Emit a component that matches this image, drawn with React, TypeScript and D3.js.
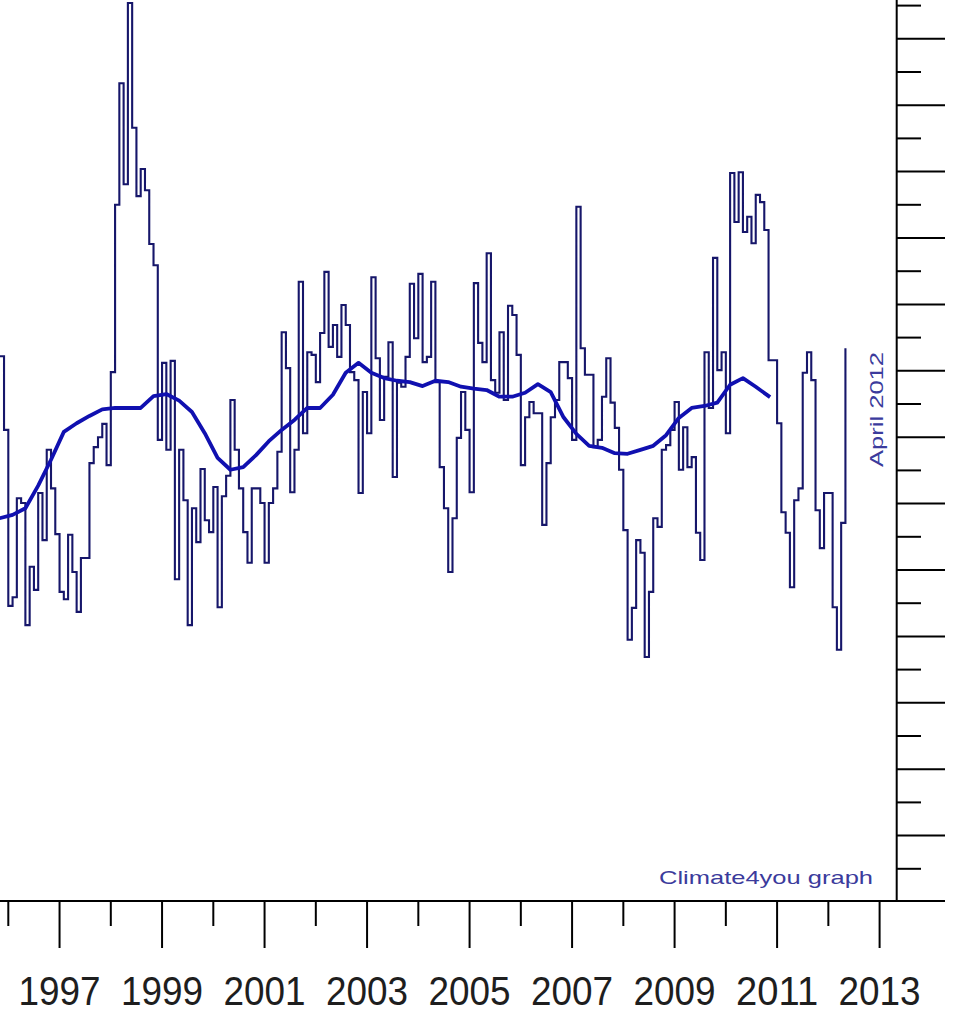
import React from 'react';
import * as d3 from 'd3';

// Monthly lower-troposphere temperature anomaly (°C), starting October 1995, ending April 2012
const START_YEAR = 1995;
const START_MONTH = 10;
const monthlyAnomaly = [
  // 1995 Oct-Dec
  0.322, 0.211, -0.054,
  // 1996
  -0.041, 0.108, 0.101, -0.083, 0.005, -0.030, 0.116, 0.045, 0.181, 0.123, 0.054, -0.033,
  // 1997
  -0.044, 0.053, -0.003, -0.063, 0.018, 0.018, 0.161, 0.185, 0.200, 0.220, 0.158, 0.298,
  // 1998
  0.550, 0.733, 0.581, 0.854, 0.666, 0.563, 0.604, 0.572, 0.491, 0.459, 0.196, 0.312,
  // 1999
  0.181, 0.315, -0.014, 0.181, 0.105, -0.083, 0.093, 0.042, 0.152, 0.075, 0.057, 0.125,
  // 2000
  -0.056, 0.111, 0.142, 0.256, 0.181, 0.123, 0.057, 0.011, 0.123, 0.123, 0.101, 0.011,
  // 2001
  0.101, 0.123, 0.178, 0.358, 0.304, 0.117, 0.181, 0.434, 0.206, 0.328, 0.324, 0.283,
  // 2002
  0.357, 0.449, 0.336, 0.369, 0.321, 0.399, 0.369, 0.298, 0.286, 0.116, 0.268, 0.206,
  // 2003
  0.441, 0.319, 0.226, 0.291, 0.343, 0.140, 0.282, 0.276, 0.321, 0.431, 0.349, 0.446,
  // 2004
  0.313, 0.321, 0.434, 0.283, 0.155, 0.093, -0.003, 0.078, 0.199, 0.268, 0.211, 0.117,
  // 2005
  0.432, 0.342, 0.313, 0.477, 0.286, 0.267, 0.358, 0.256, 0.398, 0.384, 0.324, 0.158,
  // 2006
  0.230, 0.253, 0.236, 0.236, 0.068, 0.161, 0.230, 0.256, 0.313, 0.313, 0.289, 0.196,
  // 2007
  0.547, 0.334, 0.294, 0.294, 0.185, 0.196, 0.261, 0.319, 0.252, 0.214, 0.151, 0.060,
  // 2008
  -0.105, -0.057, 0.045, 0.026, -0.131, -0.033, 0.078, 0.065, 0.181, 0.188, 0.211, 0.253,
  // 2009
  0.151, 0.215, 0.155, 0.170, 0.056, 0.015, 0.328, 0.244, 0.470, 0.301, 0.328, 0.206,
  // 2010
  0.598, 0.524, 0.599, 0.509, 0.532, 0.492, 0.565, 0.554, 0.512, 0.316, 0.316, 0.221,
  // 2011
  0.087, 0.056, -0.026, 0.105, 0.123, 0.297, 0.328, 0.286, 0.090, 0.033, 0.116, 0.116,
  // 2012 Jan-Apr
  -0.056, -0.120, 0.071, 0.334,
];

// 37-month running mean, read every third month from October 1995 to October 2010
const MEAN_START_MONTH = 10;
const MEAN_STEP = 3;
const runningMean = [
  0.078, 0.083, 0.093, 0.127, 0.166,
  0.208, 0.221, 0.232, 0.242,
  0.244, 0.244, 0.244, 0.262,
  0.265, 0.255, 0.238, 0.206,
  0.169, 0.151, 0.155, 0.173,
  0.194, 0.211, 0.226, 0.244,
  0.244, 0.264, 0.297, 0.312,
  0.297, 0.289, 0.285, 0.283,
  0.277, 0.285, 0.283, 0.276,
  0.273, 0.271, 0.261, 0.261,
  0.267, 0.280, 0.268, 0.230,
  0.205, 0.187, 0.184, 0.176,
  0.175, 0.181, 0.187, 0.203,
  0.229, 0.244, 0.247, 0.252,
  0.279, 0.289, 0.276, 0.262,
];

const yearTicks = [1996, 1997, 1998, 1999, 2000, 2001, 2002, 2003, 2004, 2005, 2006, 2007, 2008, 2009, 2010, 2011, 2012, 2013];
const yearLabels = [1997, 1999, 2001, 2003, 2005, 2007, 2009, 2011, 2013];
const valueTicks = [-0.45, -0.4, -0.35, -0.3, -0.25, -0.2, -0.15, -0.1, -0.05, 0, 0.05, 0.1, 0.15, 0.2, 0.25, 0.3, 0.35, 0.4, 0.45, 0.5, 0.55, 0.6, 0.65, 0.7, 0.75, 0.8, 0.85];

const stampText = 'Climate4you graph';
const lastMonthText = 'April 2012';

export default function App() {
  const W = 960;
  const H = 1016;
  const axisX = 896.7;
  const axisY = 901;

  const x = d3.scaleLinear().domain([1996, 2013]).range([8.3, 879.6]);
  const y = d3.scaleLinear().domain([0, 0.8]).range([570, 38.8]);

  const monthPts: [number, number][] = monthlyAnomaly.map((v, i) => [
    x(START_YEAR + (START_MONTH + i) / 12),
    y(v),
  ]);
  const meanPts: [number, number][] = runningMean.map((v, i) => [
    x(START_YEAR + (MEAN_START_MONTH + i * MEAN_STEP) / 12),
    y(v),
  ]);

  const stepLine = d3.line().curve(d3.curveStepAfter)(monthPts) || '';
  const meanLine = d3.line()(meanPts) || '';

  const font = '"Liberation Sans", Arial, Helvetica, sans-serif';

  return (
    <svg
      width={W}
      height={H}
      viewBox={`0 0 ${W} ${H}`}
      style={{ position: 'absolute', left: 0, top: 0, background: '#ffffff' }}
    >
      <defs>
        <clipPath id="plotClip">
          <rect x={0} y={0} width={axisX} height={axisY} />
        </clipPath>
      </defs>
      <rect x={0} y={0} width={W} height={H} fill="#ffffff" />

      <g clipPath="url(#plotClip)">
        <path d={stepLine} fill="none" stroke="#16166a" strokeWidth={2.1} strokeLinejoin="miter" />
        <path d={meanLine} fill="none" stroke="#1010b0" strokeWidth={3.8} strokeLinejoin="round" strokeLinecap="square" />
      </g>

      {/* right axis */}
      <line x1={axisX} y1={0} x2={axisX} y2={axisY} stroke="#000" strokeWidth={2} />
      {valueTicks.map((v) => {
        const long = Math.round(v * 100) % 10 === 0;
        const yy = y(v);
        return (
          <line key={'vt' + v} x1={axisX} x2={long ? 945 : 921} y1={yy} y2={yy} stroke="#000" strokeWidth={2} />
        );
      })}

      {/* bottom axis */}
      <line x1={0} y1={axisY} x2={945} y2={axisY} stroke="#000" strokeWidth={2} />
      {yearTicks.map((yr) => {
        const long = yr % 2 === 1;
        const xx = x(yr);
        return (
          <line key={'yt' + yr} x1={xx} x2={xx} y1={axisY} y2={long ? 948 : 926} stroke="#000" strokeWidth={2} />
        );
      })}
      {yearLabels.map((yr) => (
        <text
          key={'yl' + yr}
          x={x(yr)}
          y={1005}
          textAnchor="middle"
          fontFamily={font}
          fontSize={40}
          fill="#1e1e1e"
          textLength={82}
          lengthAdjust="spacingAndGlyphs"
        >
          {String(yr)}
        </text>
      ))}

      <text
        x={873}
        y={884}
        textAnchor="end"
        fontFamily={font}
        fontSize={19}
        fill="#3b3b9c"
        textLength={214}
        lengthAdjust="spacingAndGlyphs"
      >
        {stampText}
      </text>

      <text
        transform={`translate(883, 467) rotate(-90)`}
        x={0}
        y={0}
        fontFamily={font}
        fontSize={19}
        fill="#3b3b9c"
        textLength={115}
        lengthAdjust="spacingAndGlyphs"
      >
        {lastMonthText}
      </text>
    </svg>
  );
}
